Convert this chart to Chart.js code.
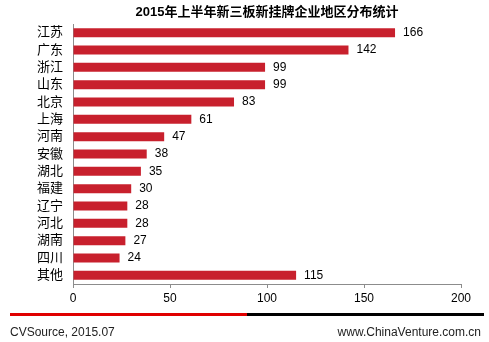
<!DOCTYPE html>
<html lang="zh">
<head>
    <meta charset="UTF-8">
    <title>2015年上半年新三板新挂牌企业地区分布统计</title>
    <script src="https://cdn.jsdelivr.net/npm/chart.js"></script>
    <style>
        html, body { margin: 0; padding: 0; background: #fff; }
        #wrap { width: 489px; height: 342px; position: relative; }
    </style>
</head>
<body>
    <div id="wrap">
        <canvas id="myChart"></canvas>
    </div>

    <script>
        // Data
        var regions = ['江苏', '广东', '浙江', '山东', '北京', '上海', '河南', '安徽', '湖北', '福建', '辽宁', '河北', '湖南', '四川', '其他'];
        var counts = [166, 142, 99, 99, 83, 61, 47, 38, 35, 30, 28, 28, 27, 24, 115];
        var xTicks = [0, 50, 100, 150, 200];

        var titleText = '2015年上半年新三板新挂牌企业地区分布统计';
        var sourceText = 'CVSource, 2015.07';
        var siteText = 'www.ChinaVenture.com.cn';

        var fontFamily = 'Arial, "Liberation Sans", "Noto Sans CJK SC", sans-serif';

        // value labels at bar ends, title and footer
        var extras = {
            id: 'extras',
            afterDatasetsDraw: function (chart) {
                var ctx = chart.ctx;
                var meta = chart.getDatasetMeta(0);
                ctx.save();
                ctx.fillStyle = '#000';
                ctx.font = '12px ' + fontFamily;
                ctx.textAlign = 'left';
                ctx.textBaseline = 'middle';
                meta.data.forEach(function (bar, i) {
                    ctx.fillText(counts[i], bar.x + 8, bar.y);
                });
                ctx.restore();
            },
            afterDraw: function (chart) {
                var ctx = chart.ctx;
                var area = chart.chartArea;
                ctx.save();
                // title
                ctx.fillStyle = '#000';
                ctx.font = 'bold 13px ' + fontFamily;
                ctx.textAlign = 'center';
                ctx.textBaseline = 'middle';
                ctx.fillText(titleText, (area.left + area.right) / 2, 12);

                // footer rule
                ctx.fillStyle = '#e00000';
                ctx.fillRect(10, 313, 237, 3);
                ctx.fillStyle = '#000';
                ctx.fillRect(247, 313, 237, 3);

                // footer texts
                ctx.font = '12px ' + fontFamily;
                ctx.fillStyle = '#222';
                ctx.textAlign = 'left';
                ctx.fillText(sourceText, 10, 333);
                ctx.textAlign = 'right';
                ctx.fillText(siteText, 481, 333);
                ctx.restore();
            }
        };

        var ctx = document.getElementById('myChart').getContext('2d');

        var myChart = new Chart(ctx, {
            type: 'bar',
            data: {
                labels: regions,
                datasets: [{
                    data: counts,
                    backgroundColor: '#c8202d',
                    borderWidth: 0,
                    categoryPercentage: 1,
                    barPercentage: 0.52
                }]
            },
            options: {
                indexAxis: 'y',
                responsive: true,
                maintainAspectRatio: false,
                animation: false,
                layout: {
                    padding: { top: 24, right: 28, bottom: 34, left: 0 }
                },
                plugins: {
                    legend: { display: false },
                    tooltip: { enabled: false }
                },
                scales: {
                    x: {
                        min: 0,
                        max: 200,
                        afterBuildTicks: function (scale) {
                            scale.ticks = xTicks.map(function (v) { return { value: v }; });
                        },
                        afterFit: function (scale) { scale.height = 24; },
                        grid: {
                            drawOnChartArea: false,
                            drawTicks: true,
                            tickLength: 4,
                            color: '#8c8c8c'
                        },
                        border: { color: '#8c8c8c' },
                        ticks: {
                            color: '#000',
                            padding: 3,
                            font: { size: 12, family: fontFamily }
                        }
                    },
                    y: {
                        afterFit: function (scale) { scale.width = 73; },
                        grid: {
                            drawOnChartArea: false,
                            drawTicks: false
                        },
                        border: { color: '#8c8c8c' },
                        ticks: {
                            autoSkip: false,
                            color: '#000',
                            padding: 10,
                            font: { size: 13, family: fontFamily }
                        }
                    }
                }
            },
            plugins: [extras]
        });
    </script>
</body>
</html>
